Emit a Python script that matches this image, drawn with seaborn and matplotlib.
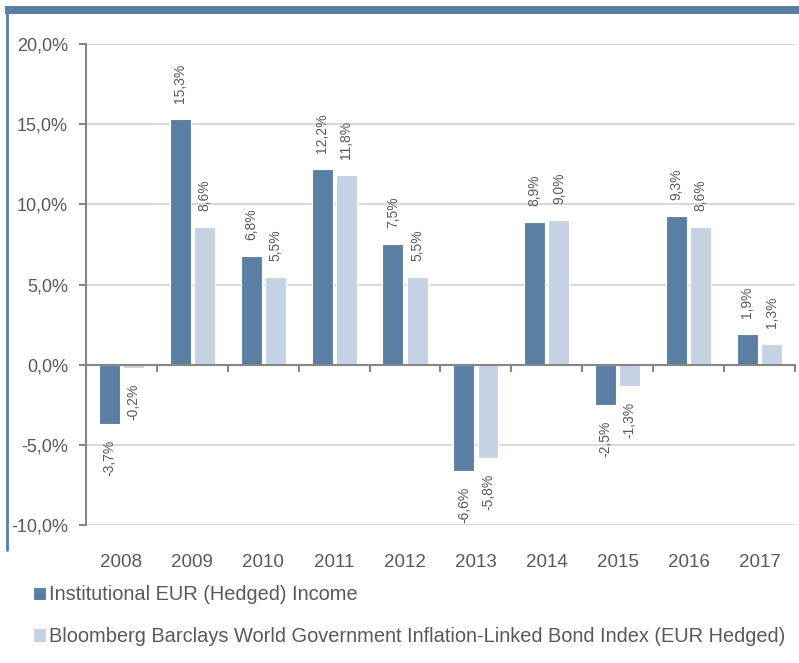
import matplotlib
matplotlib.use("Agg")
import matplotlib.pyplot as plt
import matplotlib.transforms as mtransforms
from matplotlib.lines import Line2D
from matplotlib.patches import Rectangle
from matplotlib.ticker import FuncFormatter, FixedLocator
import pandas as pd
import seaborn as sns

# 数据
years = ["2008", "2009", "2010", "2011", "2012", "2013", "2014", "2015", "2016", "2017"]
fund_returns = [-3.7, 15.3, 6.8, 12.2, 7.5, -6.6, 8.9, -2.5, 9.3, 1.9]
index_returns = [-0.2, 8.6, 5.5, 11.8, 5.5, -5.8, 9.0, -1.3, 8.6, 1.3]
series_names = [
    "Institutional EUR (Hedged) Income",
    "Bloomberg Barclays World Government Inflation-Linked Bond Index (EUR Hedged)",
]
y_ticks = [-10, -5, 0, 5, 10, 15, 20]

dark_blue = "#5B7FA3"
light_blue = "#C5D2E3"
text_gray = "#595959"

df = pd.DataFrame({
    "year": years * 2,
    "value": fund_returns + index_returns,
    "series": [series_names[0]] * len(years) + [series_names[1]] * len(years),
})

sns.set_theme(style="white")
plt.rcParams["font.family"] = ["Liberation Sans", "DejaVu Sans"]

fig = plt.figure(figsize=(7.99, 6.63), dpi=100)
ax = fig.add_axes([0.1076, 0.2081, 0.8874, 0.7255])

sns.barplot(data=df, x="year", y="value", hue="series", order=years,
            hue_order=series_names, palette=[dark_blue, light_blue], saturation=1,
            width=0.68, gap=0.13, edgecolor="white", linewidth=0.8,
            ax=ax, legend=True)

ax.set_ylim(-10, 20)
ax.set_xlim(-0.5, len(years) - 0.5)
ax.set_yticks(y_ticks)
ax.yaxis.set_major_formatter(FuncFormatter(lambda v, p: f"{v:.1f}%".replace(".", ",")))
ax.grid(axis="y", color="#D9D9D9", linewidth=1.5)
ax.set_axisbelow(True)

for s in ["top", "right"]:
    ax.spines[s].set_visible(False)
ax.spines["left"].set_color("#868686")
ax.spines["left"].set_linewidth(1.5)
ax.spines["bottom"].set_position(("data", 0))
ax.spines["bottom"].set_color("#868686")
ax.spines["bottom"].set_linewidth(1.5)

ax.xaxis.set_major_locator(FixedLocator([i - 0.5 for i in range(len(years) + 1)]))
ax.set_xticklabels([])
ax.tick_params(axis="x", direction="out", length=5, width=1.5, color="#868686", bottom=True)
ax.tick_params(axis="y", direction="out", length=5, width=1.5, color="#868686", left=True,
               labelsize=13, labelcolor=text_gray, pad=8)
ax.set_xlabel("")
ax.set_ylabel("")

# 年份标签放在图底部
trans = mtransforms.blended_transform_factory(ax.transData, ax.transAxes)
for i, yr in enumerate(years):
    ax.text(i, -0.078, yr, transform=trans, ha="center", va="center",
            fontsize=13.5, color=text_gray)

# 数据标签
for container in ax.containers:
    for bar in container:
        h = bar.get_height()
        xc = bar.get_x() + bar.get_width() / 2
        label = f"{h:.1f}%".replace(".", ",")
        if h >= 0:
            ax.annotate(label, (xc, h), xytext=(0, 16), textcoords="offset pixels",
                        rotation=90, ha="center", va="bottom", fontsize=10, color=text_gray)
        else:
            ax.annotate(label, (xc, h), xytext=(0, -16), textcoords="offset pixels",
                        rotation=90, ha="center", va="top", fontsize=10, color=text_gray)

# 图例
handles, labels = ax.get_legend_handles_labels()
ax.get_legend().remove()
fig.legend(handles, labels, loc="upper left", bbox_to_anchor=(0.031, 0.129),
           frameon=False, fontsize=14.4, labelcolor=text_gray,
           handlelength=0.65, handleheight=0.65, handletextpad=0.15,
           labelspacing=1.12, borderaxespad=0)

# 顶部色条和左侧边线
fig.add_artist(Rectangle((0.006, 0.979), 0.994, 0.0125, transform=fig.transFigure,
                         color=dark_blue, linewidth=0))
fig.add_artist(Line2D([0.0085, 0.0085], [0.17, 0.985], transform=fig.transFigure,
                      color=dark_blue, linewidth=2))

fig.savefig("out.png", dpi=100)
